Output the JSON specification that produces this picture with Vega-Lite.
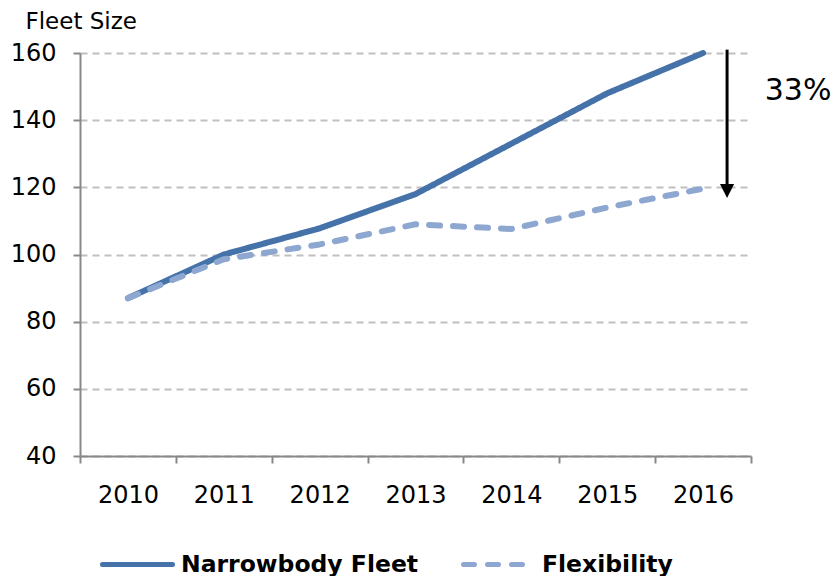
{
  "$schema": "https://vega.github.io/schema/vega-lite/v6.json",
  "autosize": {"type": "none"},
  "width": 671,
  "height": 403,
  "padding": {"left": 80, "top": 53, "right": 83, "bottom": 120},
  "background": "white",
  "config": {
    "font": "DejaVu Sans",
    "view": {"stroke": null},
    "axis": {"labelFont": "DejaVu Sans", "labelColor": "#000000", "labelFontSize": 24, "domainColor": "#888888", "tickColor": "#888888", "domainWidth": 2, "tickWidth": 2, "tickSize": 7}
  },
  "datasets": {
    "fleet": [
      {"year": "2010", "series": "Narrowbody Fleet", "value": 87},
      {"year": "2011", "series": "Narrowbody Fleet", "value": 100},
      {"year": "2012", "series": "Narrowbody Fleet", "value": 107.8},
      {"year": "2013", "series": "Narrowbody Fleet", "value": 118},
      {"year": "2014", "series": "Narrowbody Fleet", "value": 133},
      {"year": "2015", "series": "Narrowbody Fleet", "value": 148},
      {"year": "2016", "series": "Narrowbody Fleet", "value": 160},
      {"year": "2010", "series": "Flexibility", "value": 87},
      {"year": "2011", "series": "Flexibility", "value": 98.6},
      {"year": "2012", "series": "Flexibility", "value": 103},
      {"year": "2013", "series": "Flexibility", "value": 109},
      {"year": "2014", "series": "Flexibility", "value": 107.6},
      {"year": "2015", "series": "Flexibility", "value": 114},
      {"year": "2016", "series": "Flexibility", "value": 119.6}
    ],
    "gap": [
      {"year": "2016", "top": 161, "bottom": 121, "tip": 118.9, "labelY": 148.8, "label": "33%"}
    ]
  },
  "layer": [
    {
      "data": {"name": "fleet"},
      "mark": {"type": "line", "strokeWidth": 6, "strokeCap": "round", "strokeJoin": "round"},
      "encoding": {
        "x": {"field": "year", "type": "ordinal", "bandPosition": 0.5,
              "scale": {"type": "band", "paddingInner": 0, "paddingOuter": 0},
              "axis": {"title": null, "labelAngle": 0, "tickBand": "extent", "grid": false, "labelPadding": 20}},
        "y": {"field": "value", "type": "quantitative",
              "scale": {"domain": [40, 160], "nice": false, "zero": false},
              "axis": {"values": [40, 60, 80, 100, 120, 140, 160], "grid": true, "gridColor": "#bfbfbf", "gridDash": [7, 5], "gridWidth": 2,
                       "labelPadding": 17, "title": "Fleet Size", "titleAngle": 0, "titleX": -55, "titleY": -25,
                       "titleAlign": "left", "titleBaseline": "alphabetic", "titleFontSize": 23, "titleFontWeight": "normal", "titleColor": "#000000", "titleFont": "DejaVu Sans"}},
        "color": {"field": "series", "type": "nominal",
                  "scale": {"domain": ["Narrowbody Fleet", "Flexibility"], "range": ["#4572A9", "#8DA7D0"]},
                  "legend": {"title": null, "orient": "none", "direction": "horizontal", "legendX": 20, "legendY": 474,
                             "symbolType": "stroke", "symbolSize": 4900, "symbolStrokeWidth": 5,
                             "labelFontSize": 23.5, "labelFontWeight": "bold", "labelColor": "#000000", "labelOffset": 6, "columnPadding": 34, "padding": 0, "labelLimit": 400,
                             "encode": {"symbols": {"update": {"strokeCap": {"value": "round"}}}}}},
        "strokeDash": {"field": "series", "type": "nominal",
                       "scale": {"domain": ["Narrowbody Fleet", "Flexibility"], "range": [[1, 0], [11, 13]]},
                       "legend": {"title": null, "orient": "none", "direction": "horizontal", "legendX": 20, "legendY": 474,
                             "symbolType": "stroke", "symbolSize": 4900, "symbolStrokeWidth": 5,
                             "labelFontSize": 23.5, "labelFontWeight": "bold", "labelColor": "#000000", "labelOffset": 6, "columnPadding": 34, "padding": 0, "labelLimit": 400,
                             "encode": {"symbols": {"update": {"strokeCap": {"value": "round"}}}}}},
        "order": {"field": "series", "sort": "descending"}
      }
    },
    {
      "data": {"name": "gap"},
      "mark": {"type": "rule", "color": "#000000", "strokeWidth": 3, "xOffset": 24},
      "encoding": {
        "x": {"field": "year", "type": "ordinal", "bandPosition": 0.5},
        "y": {"field": "top", "type": "quantitative"},
        "y2": {"field": "bottom"}
      }
    },
    {
      "data": {"name": "gap"},
      "mark": {"type": "point", "shape": "M-1,-1L1,-1L0,1Z", "filled": true, "color": "#000000", "opacity": 1, "size": 200, "xOffset": 24},
      "encoding": {
        "x": {"field": "year", "type": "ordinal", "bandPosition": 0.5},
        "y": {"field": "tip", "type": "quantitative"}
      }
    },
    {
      "data": {"name": "gap"},
      "mark": {"type": "text", "fontSize": 30, "color": "#000000", "xOffset": 95, "align": "center", "baseline": "middle"},
      "encoding": {
        "x": {"field": "year", "type": "ordinal", "bandPosition": 0.5},
        "y": {"field": "labelY", "type": "quantitative"},
        "text": {"field": "label"}
      }
    }
  ]
}
